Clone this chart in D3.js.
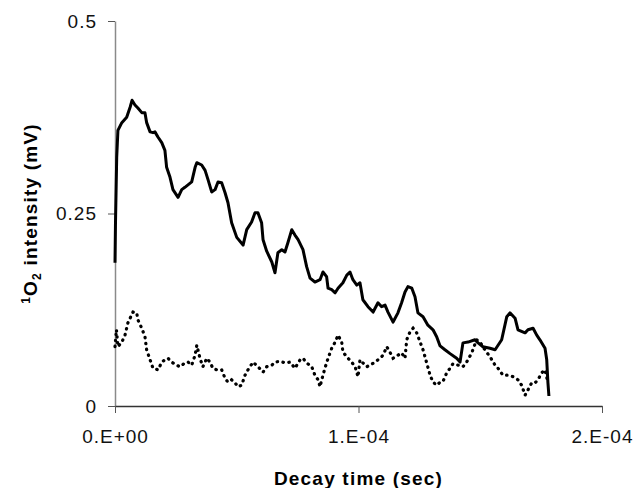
<!DOCTYPE html>
<html>
<head>
<meta charset="utf-8">
<script src="https://cdn.jsdelivr.net/npm/d3@7"></script>
<style>
  body { margin: 0; background: #fff; }
  text { font-family: "Liberation Sans", Arial, sans-serif; }
</style>
</head>
<body>
<div id="chart"></div>
<script>
// decay time in microseconds, intensity in mV
const solidTime = [0, 0.2, 0.7, 1.2, 2.8, 4.8, 6.2, 7.0, 8.2, 9.4, 11.0, 12.3, 13.0, 14.4, 15.6, 16.4, 17.7, 19.2, 20.5, 21.2,
    22.6, 23.8, 25.9, 27.4, 28.7, 31.5, 32.9, 33.6, 35.6, 37.0, 38.2, 39.7, 41.1, 42.3, 43.8, 45.2, 46.4, 47.9, 50.0, 52.6,
    54.1, 56.1, 57.5, 58.7, 60.2, 60.8, 62.3, 64.4, 65.7, 66.9, 68.5, 69.8, 71.0, 72.6, 73.9, 75.2, 77.2, 78.7, 80.1, 82.1,
    84.2, 85.4, 86.9, 87.5, 89.0, 90.4, 91.6, 93.6, 95.2, 96.5, 97.7, 99.3, 100.6, 101.8, 103.9, 106.0, 108.0, 109.5, 110.9, 112.1,
    114.2, 116.2, 117.7, 119.1, 120.3, 121.9, 123.2, 124.4, 126.5, 128.5, 130.6, 132.1, 133.5, 135.5, 137.6, 140.3, 141.7, 142.9, 145.0, 147.8,
    149.1, 151.1, 154.0, 156.1, 158.8, 160.9, 162.2, 164.3, 165.5, 168.4, 169.6, 171.7, 173.2, 174.5, 176.6, 177.3, 177.8, 178.2];
const solidValue = [0.186, 0.238, 0.323, 0.358, 0.368, 0.375, 0.388, 0.397, 0.391, 0.387, 0.381, 0.381, 0.368, 0.356, 0.355, 0.356, 0.349, 0.342, 0.332, 0.310,
    0.297, 0.281, 0.271, 0.281, 0.284, 0.291, 0.310, 0.316, 0.313, 0.306, 0.294, 0.278, 0.281, 0.291, 0.290, 0.277, 0.264, 0.238, 0.219, 0.209,
    0.229, 0.239, 0.251, 0.251, 0.238, 0.216, 0.201, 0.187, 0.173, 0.199, 0.203, 0.200, 0.212, 0.229, 0.222, 0.216, 0.203, 0.181, 0.166, 0.161,
    0.164, 0.174, 0.168, 0.153, 0.151, 0.147, 0.153, 0.160, 0.170, 0.174, 0.164, 0.157, 0.160, 0.138, 0.129, 0.122, 0.134, 0.129, 0.131, 0.122,
    0.109, 0.121, 0.134, 0.148, 0.155, 0.153, 0.142, 0.121, 0.116, 0.105, 0.099, 0.090, 0.078, 0.073, 0.068, 0.062, 0.057, 0.082, 0.083, 0.086,
    0.082, 0.077, 0.075, 0.073, 0.086, 0.116, 0.121, 0.114, 0.099, 0.095, 0.099, 0.101, 0.092, 0.086, 0.075, 0.060, 0.030, 0.013];

const dotTime = [0, 0.6, 1.2, 2.8, 4.1, 5.3, 7.4, 8.9, 9.4, 11.0, 12.3, 13.0, 14.4, 15.6, 17.7, 19.2, 20.5, 21.8, 23.3, 25.3,
    26.7, 28.7, 30.0, 31.5, 32.9, 33.6, 34.9, 36.1, 37.7, 39.0, 40.2, 41.8, 43.8, 45.2, 46.4, 47.9, 49.3, 50.5, 52.0, 53.4,
    54.6, 56.7, 58.7, 60.8, 62.3, 64.4, 65.7, 67.8, 69.8, 71.9, 73.9, 76.0, 77.2, 78.7, 80.8, 82.1, 83.4, 84.2, 84.9, 86.2,
    87.5, 89.0, 90.4, 91.6, 93.1, 93.6, 95.7, 97.2, 98.6, 99.8, 100.6, 101.8, 103.4, 104.7, 106.8, 108.8, 110.1, 111.6, 112.9, 114.2,
    116.2, 117.7, 119.1, 119.8, 121.1, 122.4, 123.9, 125.3, 126.5, 128.0, 129.4, 130.6, 132.1, 133.5, 134.7, 136.2, 137.6, 138.8, 140.9, 142.9,
    144.4, 146.5, 148.5, 149.9, 151.9, 154.0, 156.1, 157.3, 159.3, 161.4, 163.5, 165.5, 167.0, 168.4, 169.6, 171.1, 172.5, 173.7, 175.2, 176.6, 177.4];
const dotValue = [0.077, 0.099, 0.077, 0.083, 0.092, 0.108, 0.122, 0.121, 0.112, 0.101, 0.090, 0.073, 0.060, 0.049, 0.047, 0.057, 0.060, 0.062, 0.057, 0.053,
    0.051, 0.056, 0.057, 0.053, 0.066, 0.079, 0.062, 0.051, 0.062, 0.057, 0.049, 0.047, 0.047, 0.036, 0.031, 0.034, 0.030, 0.025, 0.027, 0.040,
    0.047, 0.057, 0.051, 0.044, 0.051, 0.053, 0.057, 0.058, 0.056, 0.057, 0.049, 0.060, 0.062, 0.056, 0.051, 0.040, 0.034, 0.025, 0.034, 0.049,
    0.062, 0.075, 0.083, 0.092, 0.083, 0.070, 0.062, 0.057, 0.051, 0.038, 0.060, 0.056, 0.051, 0.053, 0.057, 0.062, 0.066, 0.077, 0.070, 0.062,
    0.066, 0.069, 0.062, 0.086, 0.096, 0.101, 0.095, 0.083, 0.073, 0.056, 0.040, 0.031, 0.027, 0.031, 0.032, 0.043, 0.049, 0.055, 0.053, 0.051,
    0.057, 0.069, 0.086, 0.083, 0.073, 0.064, 0.053, 0.049, 0.040, 0.040, 0.038, 0.034, 0.027, 0.014, 0.021, 0.030, 0.030, 0.034, 0.043, 0.047, 0.036];

const xTicks = [0, 100, 200];
const xTickLabels = ["0.E+00", "1.E-04", "2.E-04"];
const yTicks = [0, 0.25, 0.5];
const yTickLabels = ["0", "0.25", "0.5"];

const width = 635, height = 488;
const margin = { top: 21, right: 33, bottom: 82, left: 115 };

const svg = d3.select("#chart").append("svg")
    .attr("width", width)
    .attr("height", height);

const x = d3.scaleLinear().domain([0, 200]).range([margin.left, width - margin.right]);
const y = d3.scaleLinear().domain([0, 0.5]).range([height - margin.bottom, margin.top]);

// y axis (grey)
const yAxis = svg.append("g")
    .attr("transform", `translate(${margin.left},0)`)
    .call(d3.axisLeft(y).tickValues(yTicks).tickSize(7).tickSizeOuter(0)
        .tickFormat((d, i) => yTickLabels[i]));
yAxis.select(".domain").attr("stroke", "#8a8a8a").attr("stroke-width", 1.5);
yAxis.selectAll(".tick line").attr("stroke", "#555").attr("stroke-width", 1);
yAxis.selectAll(".tick text")
    .attr("x", -18)
    .attr("fill", "#111")
    .style("font-size", "19px")
    .style("letter-spacing", "1px");

// x axis (dark)
const xAxis = svg.append("g")
    .attr("transform", `translate(0,${height - margin.bottom})`)
    .call(d3.axisBottom(x).tickValues(xTicks).tickSize(7).tickSizeOuter(0)
        .tickFormat((d, i) => xTickLabels[i]));
xAxis.select(".domain").attr("stroke", "#333").attr("stroke-width", 1.5);
xAxis.selectAll(".tick line").attr("stroke", "#555").attr("stroke-width", 1);
xAxis.selectAll(".tick text")
    .attr("y", 24)
    .attr("fill", "#111")
    .style("font-size", "19px")
    .style("letter-spacing", "1px");

const line = d3.line()
    .x(d => x(d[0]))
    .y(d => y(d[1]));

svg.append("path")
    .datum(dotTime.map((t, i) => [t, dotValue[i]]))
    .attr("fill", "none")
    .attr("stroke", "#000")
    .attr("stroke-width", 3.2)
    .attr("stroke-linecap", "round")
    .attr("stroke-dasharray", "0.5,5.5")
    .attr("d", line);

svg.append("path")
    .datum(solidTime.map((t, i) => [t, solidValue[i]]))
    .attr("fill", "none")
    .attr("stroke", "#000")
    .attr("stroke-width", 3)
    .attr("stroke-linejoin", "round")
    .attr("d", line);

// axis titles
svg.append("text")
    .attr("x", (margin.left + width - margin.right) / 2)
    .attr("y", 485)
    .attr("text-anchor", "middle")
    .style("font-size", "19px")
    .style("font-weight", "bold")
    .style("letter-spacing", "1.2px")
    .text("Decay time (sec)");

const yTitle = svg.append("text")
    .attr("transform", `translate(37,${(margin.top + height - margin.bottom) / 2}) rotate(-90)`)
    .attr("text-anchor", "middle")
    .style("font-size", "19px")
    .style("font-weight", "bold")
    .style("letter-spacing", "1.2px");
yTitle.append("tspan").attr("dy", -7).style("font-size", "12px").text("1");
yTitle.append("tspan").attr("dy", 7).text("O");
yTitle.append("tspan").attr("dy", 4).style("font-size", "12px").text("2");
yTitle.append("tspan").attr("dy", -4).text(" intensity (mV)");
</script>
</body>
</html>
